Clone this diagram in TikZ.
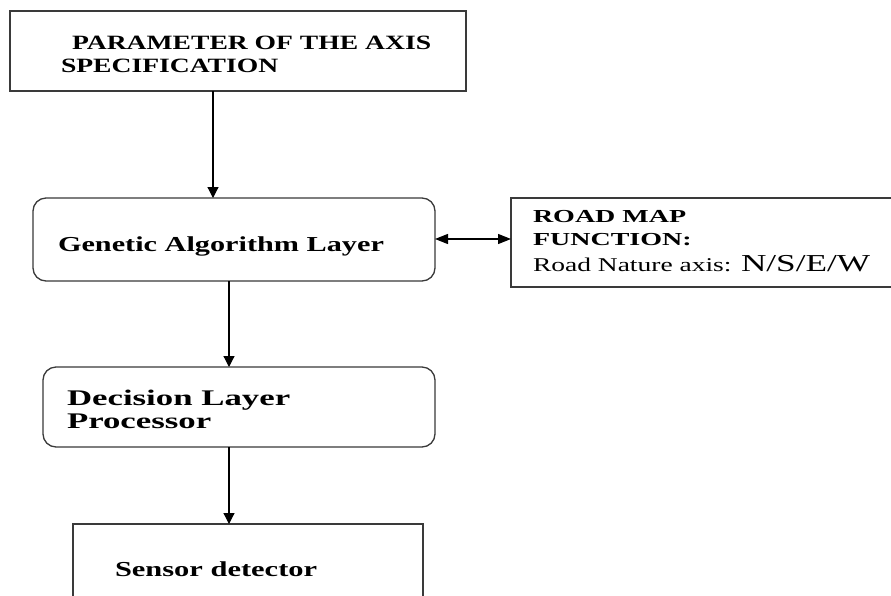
\documentclass[tikz,border=0pt]{standalone}
\usepackage{fontspec}
\setmainfont{Liberation Serif}
\usetikzlibrary{arrows.meta}
\definecolor{boxline}{HTML}{3A3A3A}
\tikzset{
  boxsq/.style={draw=boxline, line width=1.3pt},
  boxrd/.style={draw=boxline, line width=1.3pt, rounded corners=13pt},
  link/.style={draw=black, line width=1.2pt, -{Triangle[length=11pt,width=11pt]}},
  dlink/.style={draw=black, line width=1.2pt, {Triangle[length=13pt,width=10pt]}-{Triangle[length=13pt,width=10pt]}},
  lbl/.style={anchor=base west, inner sep=0pt, outer sep=0pt, transform shape},
}
\begin{document}
\begin{tikzpicture}[x=1pt,y=-1pt]
\useasboundingbox (0,0) rectangle (891,595);
\clip (0,0) rectangle (891,595);
\fill[white] (0,0) rectangle (891,595);
% boxes
\draw[boxsq] (10,11) rectangle (466,91);
\coordinate (topS) at (213,91);
\draw[boxrd] (33,198) rectangle (435,281);
\coordinate (genN) at (213,198);
\coordinate (genS) at (229,281);
\coordinate (genE) at (435,239);
\draw[boxsq] (511,198) rectangle (900,287);
\coordinate (mapW) at (511,239);
\draw[boxrd] (43,367) rectangle (435,447);
\coordinate (decN) at (229,367);
\coordinate (decS) at (229,447);
\draw[boxsq] (73,524) rectangle (423,620);
\coordinate (senN) at (229,524);
% texts
\begin{scope}[xscale=1.36]
\node[lbl, font=\fontsize{20.3}{24}\selectfont\bfseries] (t1) at (72/1.36,49.5) {PARAMETER OF THE AXIS};
\node[lbl, font=\fontsize{20.3}{24}\selectfont\bfseries] (t2) at (61/1.36,72.7) {SPECIFICATION};
\end{scope}
\begin{scope}[xscale=1.42]
\node[lbl, font=\fontsize{21.3}{25}\selectfont\bfseries] (gen) at (58/1.42,251) {Genetic Algorithm Layer};
\end{scope}
\begin{scope}[xscale=1.53]
\node[lbl, font=\fontsize{18.3}{22}\selectfont\bfseries] (m1) at (533/1.53,222.7) {ROAD MAP};
\node[lbl, font=\fontsize{18.3}{22}\selectfont\bfseries] (m2) at (533/1.53,245) {FUNCTION:};
\end{scope}
\begin{scope}[xscale=1.41]
\node[lbl, font=\fontsize{19.5}{23}\selectfont] (m3) at (533/1.41,271) {Road Nature axis:};
\end{scope}
\begin{scope}[xscale=1.45]
\node[lbl, font=\fontsize{24.3}{28}\selectfont] (m4) at (741/1.45,271) {N/S/E/W};
\end{scope}
\begin{scope}[xscale=1.56]
\node[lbl, font=\fontsize{22.3}{26}\selectfont\bfseries] (d1) at (67/1.56,405) {Decision Layer};
\node[lbl, font=\fontsize{22.3}{26}\selectfont\bfseries] (d2) at (67/1.56,428) {Processor};
\end{scope}
\begin{scope}[xscale=1.43]
\node[lbl, font=\fontsize{21.3}{25}\selectfont\bfseries] (sen) at (115/1.43,576) {Sensor detector};
\end{scope}
% connectors
\draw[link] (topS) -- (genN);
\draw[dlink] (genE) -- (mapW);
\draw[link] (genS) -- (decN);
\draw[link] (decS) -- (senN);
\end{tikzpicture}
\end{document}
